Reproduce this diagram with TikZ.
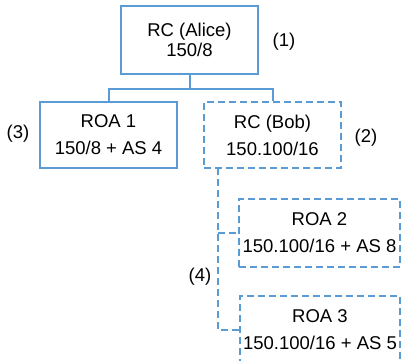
\documentclass[tikz,border=0pt]{standalone}
\usepackage{fontspec}
\setmainfont{Liberation Sans}
\usepackage{tikz}
\usetikzlibrary{positioning, calc}
\definecolor{rpkiblue}{RGB}{91,155,213}

\begin{document}
\begin{tikzpicture}[x=1pt, y=-1pt,
  box/.style={draw=rpkiblue, line width=2.4pt, rectangle, inner sep=0pt, align=center,
    font=\fontsize{18.5}{27}\selectfont},
  dbox/.style={box, dash pattern=on 7pt off 4pt},
  link/.style={draw=rpkiblue, line width=2pt},
  dlink/.style={link, dash pattern=on 7pt off 4pt},
  tag/.style={font=\fontsize{18.5}{22}\selectfont}]
\useasboundingbox (0,0) rectangle (401,360);
\node[box, minimum width=137pt, minimum height=68pt, font=\fontsize{18.5}{20}\selectfont] (alice) at (189.5,40) {RC (Alice)\\150/8};
\node[box, minimum width=137pt, minimum height=66pt] (roa1) at (108.5,135) {ROA 1\\150/8 + AS 4};
\node[dbox, minimum width=137pt, minimum height=66pt] (bob) at (272.5,135) {RC (Bob)\\150.100/16};
\node[dbox, minimum width=161pt, minimum height=68pt] (roa2) at (319.5,233) {ROA 2\\150.100/16 + AS 8};
\node[dbox, minimum width=160pt, minimum height=68pt] (roa3) at (320,330) {ROA 3\\150.100/16 + AS 5};
% labels
\node[tag] (lbl1) at (284,42) {(1)};
\node[tag] (lbl2) at (366,138) {(2)};
\node[tag] (lbl3) at (18,134) {(3)};
\node[tag] (lbl4) at (200,277) {(4)};
% connectors
\draw[link] (alice.south) -- ++(0,14) coordinate (split);
\draw[link] (roa1.north) |- (split) -| (bob.north);
\coordinate (bobtap) at (218,168);
\draw[dlink] (bobtap) |- (roa3.west);
\draw[dlink] (bobtap |- roa2.west) -- (roa2.west);
\end{tikzpicture}
\end{document}
